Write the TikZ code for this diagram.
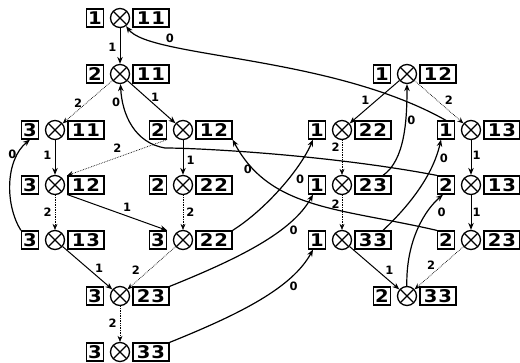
\documentclass[tikz,border=0pt]{standalone}
\usepackage{fontspec}
\setmainfont{DejaVu Sans}
\newfontfamily\boxfam[FakeStretch=1.12]{DejaVu Sans Bold}
\newfontfamily\labfam{DejaVu Sans}
\usetikzlibrary{arrows.meta}

% one state: digit box, crossed circle, pair box
\newcommand{\tripnode}[4]{%
  \node[xo] (#1) at (#2) {};
  \node[lbox] (#1l) at ([xshift=-25pt]#1.center) {#3};
  \node[rbox] (#1r) at ([xshift=31pt]#1.center) {#4};
}
\newcommand{\pr}[2]{#1\kern0.8pt#2}

\tikzset{
  xo/.style={circle, draw, line width=1.3pt, minimum size=19pt, inner sep=0pt,
    path picture={\draw[line width=1.3pt]
      (path picture bounding box.north west) -- (path picture bounding box.south east)
      (path picture bounding box.south west) -- (path picture bounding box.north east);}},
  box/.style={draw, line width=1.2pt, minimum height=18pt, inner sep=0pt,
    font=\boxfam\fontsize{17.5}{17.5}\selectfont},
  lbox/.style={box, minimum width=17pt},
  rbox/.style={box, minimum width=36pt},
  lab/.style={font=\labfam\bfseries\fontsize{11.5}{12}\selectfont, inner sep=1pt},
  one/.style={line width=1pt, -{Stealth[length=7pt,width=5.5pt]}},
  two/.style={line width=0.7pt, densely dotted, -{Stealth[length=6pt,width=5pt]}},
  zero/.style={line width=1.2pt, -{Stealth[length=7pt,width=5.5pt]}},
}

\begin{document}
\begin{tikzpicture}[x=1pt, y=-1pt]
\useasboundingbox (0,0) rectangle (520,362);

% left tree
\tripnode{A}{120,18}{1}{\pr11}
\tripnode{B}{120,74}{2}{\pr11}
\tripnode{C}{55,130}{3}{\pr11}
\tripnode{D}{183,130}{2}{\pr12}
\tripnode{E}{55,185}{3}{\pr12}
\tripnode{F}{183,185}{2}{\pr22}
\tripnode{G}{55,240}{3}{\pr13}
\tripnode{H}{183,240}{3}{\pr22}
\tripnode{I}{120,296}{3}{\pr23}
\tripnode{J}{120,352}{3}{\pr33}

% right tree
\tripnode{K}{407,74}{1}{\pr12}
\tripnode{L}{342,130}{1}{\pr22}
\tripnode{M}{471,130}{1}{\pr13}
\tripnode{N}{342,185}{1}{\pr23}
\tripnode{O}{471,185}{2}{\pr13}
\tripnode{P}{342,240}{1}{\pr33}
\tripnode{Q}{471,240}{2}{\pr23}
\tripnode{R}{407,296}{2}{\pr33}

% left tree edges
\draw[one] (A) -- node[lab, pos=0.53, left=2pt] {1} (B);
\draw[two] (B) -- node[lab, pos=0.52, left=3pt] {2} (C);
\draw[one] (B) -- node[lab, pos=0.4, right=3pt] {1} (D);
\draw[one] (C) -- node[lab, pos=0.43, left=2pt] {1} (E);
\draw[two] (Dl.south east) -- node[lab, pos=0.5, above=4pt] {2} (Er.north west);
\draw[one] (D) -- node[lab, pos=0.57, right=2pt] {1} (F);
\draw[two] (E) -- node[lab, pos=0.5, left=2pt] {2} (G);
\draw[one] (Er.south west) -- node[lab, pos=0.6, above=3pt] {1} (Hl.north east);
\draw[two] (F) -- node[lab, pos=0.49, right=2pt] {2} (H);
\draw[one] (G) -- node[lab, pos=0.5, right=6pt] {1} (I);
\draw[two] (H) -- node[lab, pos=0.55, left=8pt] {2} (I);
\draw[two] (I) -- node[lab, pos=0.47, left=2pt] {2} (J);

% right tree edges
\draw[one] (K) -- node[lab, pos=0.45, left=6pt] {1} (L);
\draw[two] (K) -- node[lab, pos=0.45, right=7pt] {2} (M);
\draw[two] (L) -- node[lab, pos=0.2, left=1pt] {2} (N);
\draw[one] (M) -- node[lab, pos=0.45, right=0pt] {1} (O);
\draw[two] (N) -- node[lab, pos=0.25, left=1pt] {2} (P);
\draw[one] (O) -- node[lab, pos=0.5, right=0pt] {1} (Q);
\draw[one] (P) -- node[lab, pos=0.55, right=7pt] {1} (R);
\draw[two] (Q) -- node[lab, pos=0.43, left=6pt] {2} (R);

% zero-labelled links
\draw[zero] (Ml.north) .. controls (330,55) and (150,58) .. (A)
  node[lab, pos=0.75, above=1pt] {0};
\draw[zero] (Ol.north west) .. controls (330,155) and (200,148) .. (165,148)
  .. controls (135,143) and (122,115) .. (B)
  node[lab, pos=0.8, left=1pt] {0};
\draw[zero] (Ql.north west) .. controls (340,208) and (270,210) .. (Dr.south east)
  node[lab, pos=0.83, left=1pt] {0};
\draw[zero] (Hr.north east) .. controls (265,210) and (300,170) .. ([xshift=-4pt]Ll.south)
  node[lab, pos=0.6, right=6pt] {0};
\draw[zero] (Ir.north east) .. controls (240,258) and (292,232) .. ([xshift=-4pt]Nl.south)
  node[lab, pos=0.65, right=8pt] {0};
\draw[zero] (Jr.north east) .. controls (240,314) and (292,288) .. ([xshift=-4pt]Pl.south)
  node[lab, pos=0.65, right=8pt] {0};
\draw[zero] ([xshift=10pt]Nr.north) .. controls (405,160) and (407,120) .. (K)
  node[lab, pos=0.67, right=0pt] {0};
\draw[zero] ([xshift=10pt]Pr.north) .. controls (410,205) and (433,175) .. ([xshift=-5pt]Ml.south)
  node[lab, pos=0.82, right=3pt] {0};
\draw[zero] (R) .. controls (406,240) and (425,210) .. ([xshift=-3pt]Ol.south)
  node[lab, pos=0.7, right=9pt] {0};
\draw[zero] (Gl.north west) .. controls (5,205) and (5,160) .. (Cl.south)
  node[lab, pos=0.8, left=0pt] {0};
\end{tikzpicture}
\end{document}
